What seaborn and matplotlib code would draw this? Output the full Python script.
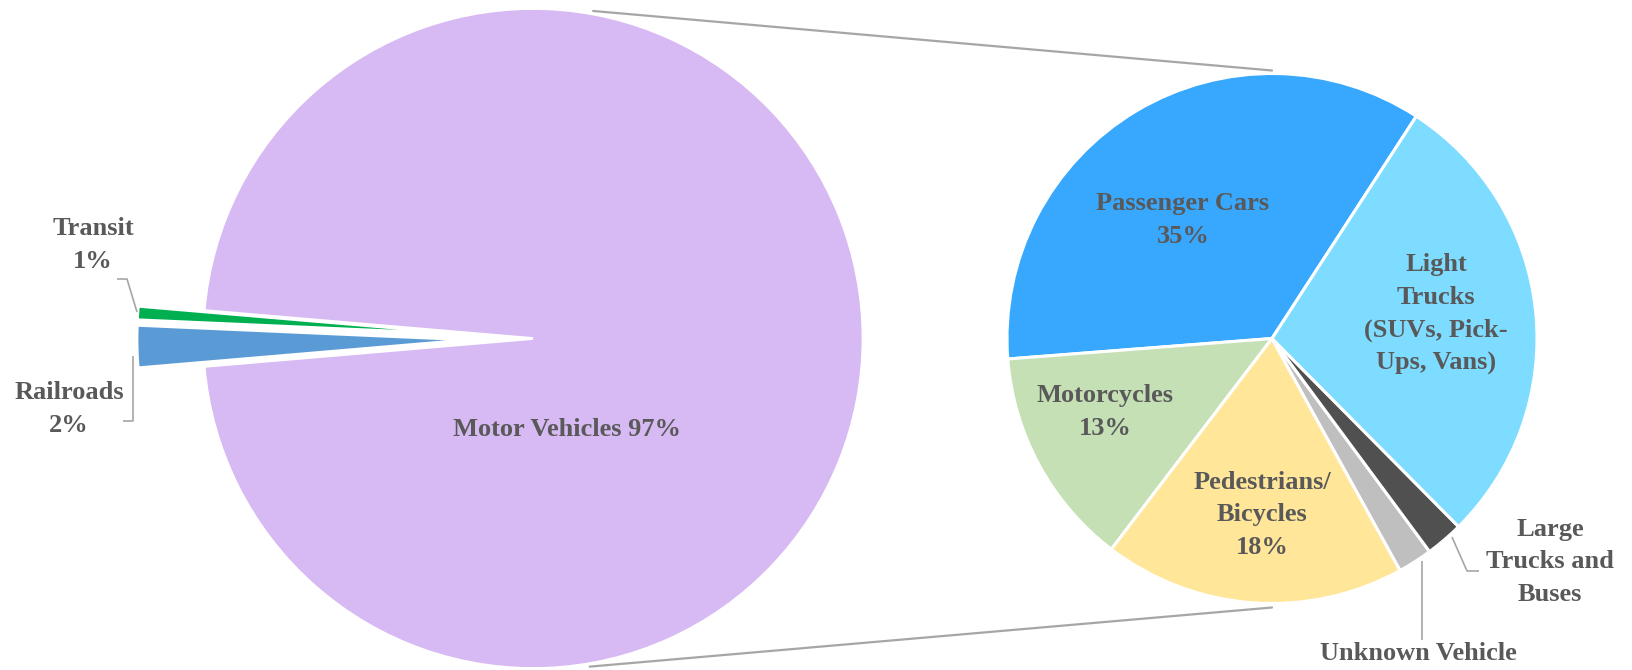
import numpy as np
import matplotlib
matplotlib.use("Agg")
import matplotlib.pyplot as plt
import seaborn as sns

# Fatalities by mode (main pie) and the motor vehicle breakdown (second pie)
main_labels = ["Motor Vehicles", "Transit", "Railroads"]
main_values = [97.3, 0.65, 2.05]
main_colors = ["#D7B9F3", "#00B050", "#5B9BD5"]

sub_labels = ["Passenger Cars", "Motorcycles", "Pedestrians/\nBicycles", "Unknown Vehicle",
              "Large\nTrucks and\nBuses", "Light\nTrucks\n(SUVs, Pick-\nUps, Vans)"]
sub_values = [35.4, 13.4, 18.4, 2.1, 2.3, 28.4]
sub_colors = ["#38A8FF", "#C5E0B4", "#FFE699", "#BFBFBF", "#505050", "#7DDCFF"]

sns.set_theme(style="white")
plt.rcParams['font.family'] = ['Liberation Serif', 'DejaVu Serif']

W, H = 1632, 670
fig = plt.figure(figsize=(W / 100, H / 100), dpi=100)
ax = fig.add_axes([0, 0, 1, 1])

def Y(v):
    # picture rows run downwards, data y runs upwards
    return H - v

txt = dict(fontsize=19, fontweight="bold", color="#595959", ha="center", va="center",
           linespacing=1.55)
lead = dict(color="#A6A6A6", lw=1.2, solid_capstyle="butt")

# main pie
cL, rL = (533, Y(338.5)), 330
split = 100 - main_values[0]
start = 180 + split / 100 * 360 / 2
explode = [0, 0.2 * rL, 0.2 * rL]
ax.pie(main_values, colors=main_colors, startangle=start, center=cL, radius=rL,
       explode=explode, wedgeprops=dict(edgecolor="white", linewidth=2))

# second pie
cR, rR = (1272, Y(338.5)), 265
ax.pie(sub_values, colors=sub_colors, startangle=57, center=cR, radius=rR,
       wedgeprops=dict(edgecolor="white", linewidth=2.2))

# connector lines between the pies
a_top, a_bot = np.radians(79.6), np.radians(-80.2)
ax.plot([cL[0] + (rL + 3) * np.cos(a_top), cR[0]], [cL[1] + (rL + 3) * np.sin(a_top), cR[1] + rR + 3],
        color="#A6A6A6", lw=1.6, zorder=0)
ax.plot([cL[0] + (rL + 3) * np.cos(a_bot), cR[0]], [cL[1] + (rL + 3) * np.sin(a_bot), cR[1] - rR - 4],
        color="#A6A6A6", lw=1.6, zorder=0)

# labels
ax.text(567, Y(429), f"{main_labels[0]} {main_values[0]:.0f}%", **txt)
ax.text(93, Y(245), f"{main_labels[1]}\n{main_values[1]:.0f}%", **txt)
ax.text(69, Y(409), f"{main_labels[2]}\n{main_values[2]:.0f}%", **txt)

ax.text(1183, Y(220), f"{sub_labels[0]}\n{sub_values[0]:.0f}%", **txt)
ax.text(1105, Y(412), f"{sub_labels[1]}\n{sub_values[1]:.0f}%", **txt)
ax.text(1262, Y(515), f"{sub_labels[2]}\n{sub_values[2]:.0f}%", **txt)
ax.text(1418, Y(654), sub_labels[3], **txt)
ax.text(1550, Y(562), sub_labels[4], **txt)
ax.text(1436, Y(314), sub_labels[5], **txt)

# leader lines
ax.plot([117, 127, 137], [Y(279), Y(279), Y(312)], **lead)
ax.plot([123, 133, 133], [Y(421), Y(421), Y(356)], **lead)
ax.plot([1422, 1422], [Y(561), Y(640)], **lead)
ax.plot([1452, 1467, 1479], [Y(537), Y(571), Y(571)], **lead)

ax.set_xlim(0, W)
ax.set_ylim(0, H)
ax.set_aspect("equal")
ax.axis("off")

fig.savefig("out.png", dpi=100)
